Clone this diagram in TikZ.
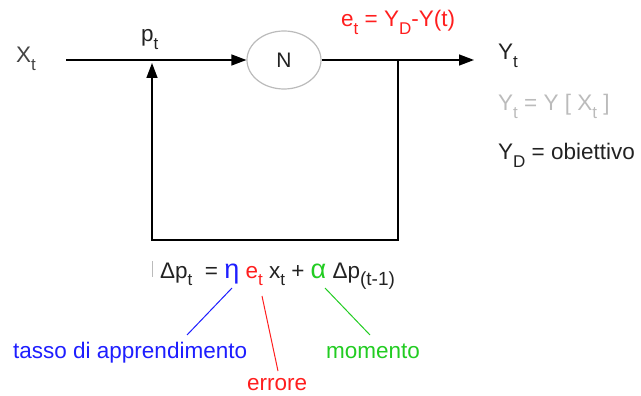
\documentclass[tikz,border=0pt]{standalone}
\usepackage{fontspec}
\setmainfont{Liberation Sans}
\usetikzlibrary{arrows.meta,shapes.geometric}
\definecolor{ink}{HTML}{222222}
\definecolor{dimgray}{HTML}{444444}
\definecolor{pale}{HTML}{BBBBBB}
\definecolor{ered}{HTML}{FF1E1E}
\definecolor{eblue}{HTML}{1E1EFF}
\definecolor{egreen}{HTML}{22CC22}
\newcommand\sbs[1]{\raisebox{-0.32em}{\fontsize{17}{17}\selectfont #1}}
\newcommand\sbb[1]{\raisebox{-0.32em}{\fontsize{19}{19}\selectfont #1}}
\begin{document}
\begin{tikzpicture}[x=1pt,y=-1pt,
  txt/.style={anchor=base west, inner sep=0pt, font=\fontsize{22.5}{26}\selectfont, text=ink},
  wire/.style={line width=1.4pt, draw=black},
  tip/.style={-{Triangle[length=15pt,width=11pt]}},
  lead/.style={line width=1pt}]
\useasboundingbox (0,0) rectangle (641,396);
% neuron
\node[ellipse, draw=pale, line width=1.2pt, minimum width=74pt, minimum height=58pt, inner sep=0pt,
      font=\fontsize{21}{24}\selectfont, text=ink] (N) at (284,60) {N};
% coordinates
\coordinate (xin) at (66,60);
\coordinate (split) at (398,60);
\coordinate (yout) at (474,60);
\coordinate (fb1) at (398,240);
\coordinate (fb2) at (152,240);
\coordinate (pj) at (152,63);
% wires
\draw[wire,tip] (xin) -- (N.west);
\draw[wire] (N.east) -- (split);
\draw[wire,tip] (split) -- (yout);
\draw[wire,tip] (split) -- (fb1) -- (fb2) -- (pj);
% labels
\node[txt, text=dimgray] (xt) at (16,63) {X\sbs{t}};
\node[txt] (pt) at (141,42) {p\sbs{t}};
\node[txt, text=ered] (et) at (341,27) {e\sbs{t} = Y\sbs{D}-Y(t)};
\node[txt] (yt) at (498,60) {Y\sbs{t}};
\node[txt, text=pale] (yeq) at (498,111) {Y\sbs{t} = Y [ X\sbs{t} ]};
\node[txt] (yd) at (498,160) {Y\sbs{D} = obiettivo};
% formula
\draw[pale, line width=0.8pt] (152,261) -- (152,277);
\node[txt] (form) at (160,278) {Δp\sbs{t}\ \ = \textcolor{eblue}{\scalebox{1.2}{η}} \textcolor{ered}{e\sbs{t}} x\sbs{t} + \textcolor{egreen}{\scalebox{1.2}{α}} Δp\sbb{(t-1)}};
\node[txt, text=eblue] (tasso) at (13,358) {tasso di apprendimento};
\node[txt, text=ered] (err) at (247,390) {errore};
\node[txt, text=egreen] (mom) at (326,358) {momento};
\coordinate (b1) at (232,288);
\coordinate (b2) at (187,335);
\coordinate (r1) at (262,296);
\coordinate (r2) at (278,371);
\coordinate (g1) at (325,288);
\coordinate (g2) at (370,335);
\draw[lead, eblue] (b1) -- (b2);
\draw[lead, ered] (r1) -- (r2);
\draw[lead, egreen] (g1) -- (g2);
\end{tikzpicture}
\end{document}
